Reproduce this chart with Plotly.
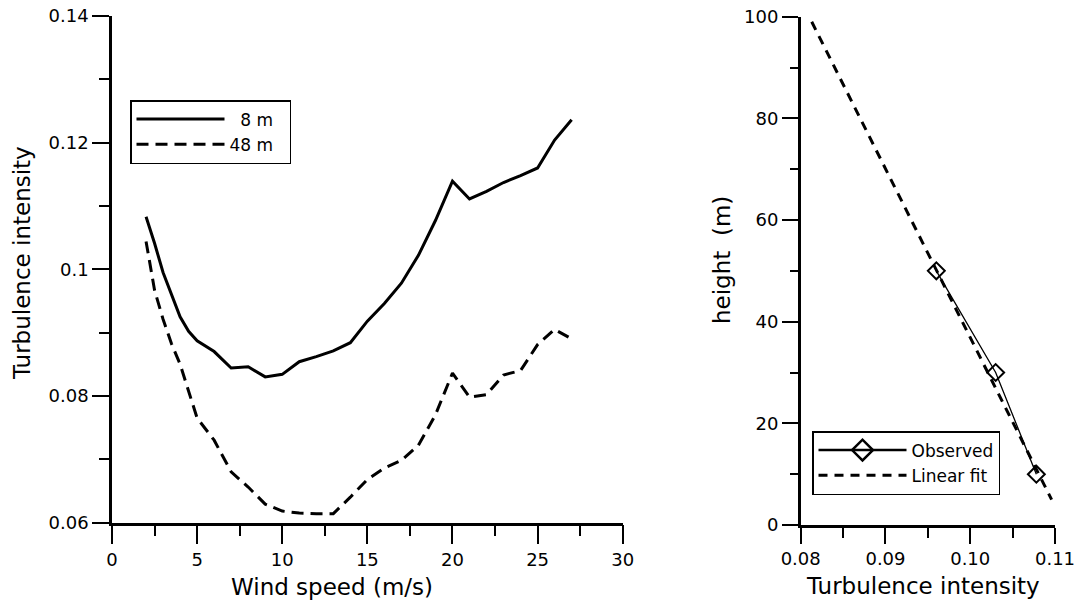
import plotly.graph_objects as go

# Turbulence intensity vs wind speed at two mast heights
wind_speed = [2, 2.5, 3, 3.5, 4, 4.5, 5, 6, 7, 8, 9, 10, 11, 12, 13, 14, 15,
              16, 17, 18, 19, 20, 21, 22, 23, 24, 25, 26, 27]
ti_8m = [0.1083, 0.1041, 0.0995, 0.0960, 0.0925, 0.0902, 0.0887, 0.0870,
         0.0844, 0.0846, 0.0830, 0.0834, 0.0854, 0.0862, 0.0871, 0.0884,
         0.0918, 0.0946, 0.0978, 0.1022, 0.1077, 0.1139, 0.1111, 0.1123,
         0.1137, 0.1148, 0.1160, 0.1204, 0.1236]
ti_48m = [0.1044, 0.0967, 0.0921, 0.0882, 0.0850, 0.0808, 0.0765, 0.0730,
          0.0680, 0.0656, 0.0629, 0.0618, 0.0615, 0.0614, 0.0614, 0.0640,
          0.0668, 0.0686, 0.0698, 0.0722, 0.0770, 0.0836, 0.0798, 0.0802,
          0.0833, 0.0840, 0.0881, 0.0905, 0.0890]

# Vertical profile of turbulence intensity
obs_height = [50, 30, 10]
obs_ti = [0.0960, 0.1030, 0.1078]
fit_height = [99, 5]
fit_ti = [0.0813, 0.1096]

FONT = "DejaVu Sans"
W, H = 1077, 603

fig = go.Figure()

fig.add_trace(go.Scatter(x=wind_speed, y=ti_8m, mode="lines",
                         name="&nbsp;&nbsp;8 m&nbsp;&nbsp;",
                         line=dict(color="black", width=3),
                         xaxis="x", yaxis="y", legend="legend"))
fig.add_trace(go.Scatter(x=wind_speed, y=ti_48m, mode="lines",
                         name="48 m&nbsp;&nbsp;",
                         line=dict(color="black", width=3, dash="12px,7px"),
                         xaxis="x", yaxis="y", legend="legend"))

# observed profile: thin connecting line in the plot, bold key in the legend
fig.add_trace(go.Scatter(x=obs_ti, y=obs_height, mode="lines+markers",
                         name="Observed", showlegend=False,
                         line=dict(color="black", width=1.3),
                         marker=dict(symbol="diamond-open", size=13,
                                     color="black", line=dict(width=2)),
                         xaxis="x2", yaxis="y2"))
fig.add_trace(go.Scatter(x=[None], y=[None], mode="lines+markers",
                         name="Observed",
                         line=dict(color="black", width=2.5),
                         marker=dict(symbol="diamond-open", size=16,
                                     color="black", line=dict(width=2.5)),
                         xaxis="x2", yaxis="y2", legend="legend2"))
fig.add_trace(go.Scatter(x=fit_ti, y=fit_height, mode="lines",
                         name="Linear fit",
                         line=dict(color="black", width=3, dash="9px,7px"),
                         xaxis="x2", yaxis="y2", legend="legend2"))

axis_common = dict(showgrid=False, zeroline=False, showline=True,
                   linecolor="black", linewidth=2.5, ticks="outside",
                   tickcolor="black", tickwidth=2,
                   tickfont=dict(family=FONT, size=18, color="black"),
                   mirror=False, automargin=False)


def minor(step, length):
    return dict(ticks="outside", dtick=step, ticklen=length, tickwidth=2,
                tickcolor="black")


legend_common = dict(xanchor="left", yanchor="top", bgcolor="white",
                     bordercolor="black", borderwidth=1.5,
                     font=dict(family=FONT, size=17, color="black"),
                     itemwidth=88, tracegroupgap=0)

fig.update_layout(
    width=W, height=H,
    margin=dict(l=0, r=0, t=0, b=0, autoexpand=False),
    paper_bgcolor="white", plot_bgcolor="white",
    font=dict(family=FONT, color="black"),
    xaxis=dict(domain=[112 / W, 622.7 / W], range=[0, 30], dtick=5,
               anchor="y", ticklen=19, minor=minor(2.5, 11), **axis_common),
    yaxis=dict(domain=[1 - 522.5 / H, 1 - 16 / H], range=[0.06, 0.14],
               dtick=0.02, anchor="x", ticklen=17, minor=minor(0.01, 10),
               **axis_common),
    xaxis2=dict(domain=[800.7 / W, 1055 / W], range=[0.08, 0.11], dtick=0.01,
                tickformat=".2f", anchor="y2", ticklen=16,
                minor=minor(0.005, 10), **axis_common),
    yaxis2=dict(domain=[1 - 525 / H, 1 - 16.7 / H], range=[0, 100],
                dtick=20, anchor="x2", ticklen=16, minor=minor(10, 8),
                **axis_common),
    legend=dict(x=130 / W, y=1 - 100 / H, **legend_common),
    legend2=dict(x=812 / W, y=1 - 431 / H, **legend_common),
    showlegend=True,
)

title_font = dict(family=FONT, size=23, color="black")
fig.add_annotation(text="Wind speed (m/s)", xref="paper", yref="paper",
                   x=332 / W, y=1 - 587 / H, showarrow=False,
                   xanchor="center", yanchor="middle", font=title_font)
fig.add_annotation(text="Turbulence intensity", xref="paper", yref="paper",
                   x=22 / W, y=1 - 263 / H, showarrow=False, textangle=-90,
                   xanchor="center", yanchor="middle", font=title_font)
fig.add_annotation(text="Turbulence intensity", xref="paper", yref="paper",
                   x=923 / W, y=1 - 586 / H, showarrow=False,
                   xanchor="center", yanchor="middle", font=title_font)
fig.add_annotation(text="height&nbsp;&nbsp;(m)", xref="paper", yref="paper",
                   x=722 / W, y=1 - 260 / H, showarrow=False, textangle=-90,
                   xanchor="center", yanchor="middle", font=title_font)

fig.write_html("out.html")
